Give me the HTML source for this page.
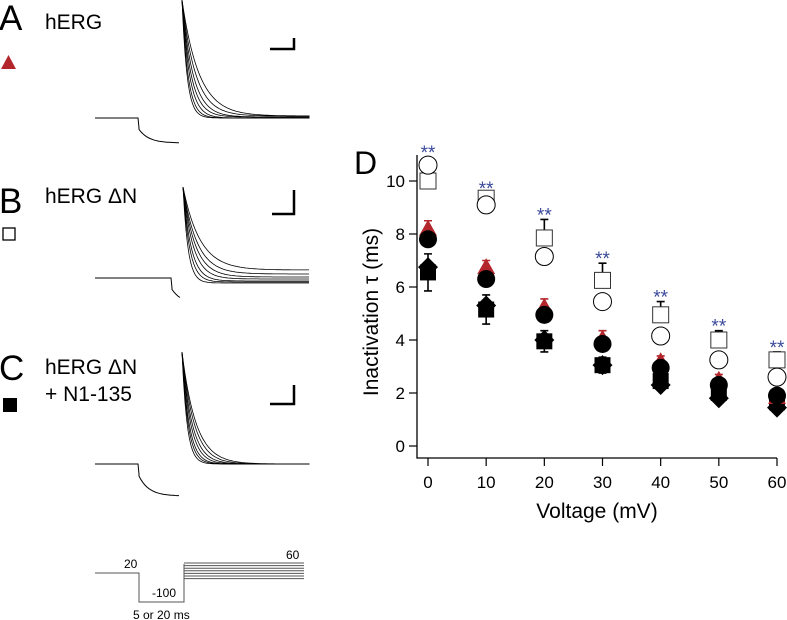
<!DOCTYPE html>
<html><head><meta charset="utf-8"><style>
body{margin:0;background:#fff;width:787px;height:620px;overflow:hidden}
svg{display:block;font-family:"Liberation Sans",Arial,sans-serif}
</style></head><body>
<svg id="fig" width="787" height="620" viewBox="0 0 787 620">
<g fill="#000">
<text x="-1" y="30" font-size="35">A</text>
<text x="45" y="29" font-size="21">hERG</text>
<polygon points="1,69 16,69 8.5,55" fill="#b3262b"/>
<text x="-1" y="213" font-size="35">B</text>
<text x="45" y="203" font-size="21">hERG ΔN</text>
<rect x="3" y="228" width="12" height="12" fill="none" stroke="#000" stroke-width="1.3"/>
<text x="-1" y="380" font-size="35">C</text>
<text x="45" y="374" font-size="21">hERG ΔN</text>
<text x="45" y="401" font-size="21">+ N1-135</text>
<rect x="3" y="398" width="14" height="14" fill="#000"/>
<text x="354" y="174" font-size="32">D</text>
</g>
<g id="traces" fill="none" stroke="#000" stroke-width="1"></g>
<g stroke="#000" stroke-width="2.5" fill="none">
<polyline points="270,49 294,49 294,38"/>
<polyline points="272,214 294,214 294,190"/>
<polyline points="270,404 294,404 294,385"/>
</g>
<g fill="none" stroke="#555" stroke-width="1">
<polyline points="95,573 139,573 139,602 184,602 184,564"/>
<text x="124" y="568" font-size="12" fill="#000" stroke="none">20</text>
<text x="152" y="597" font-size="12" fill="#000" stroke="none">-100</text>
<text x="286" y="559" font-size="12" fill="#000" stroke="none">60</text>
<text x="133" y="619" font-size="12" fill="#000" stroke="none">5 or 20 ms</text>
</g>
<g id="chart"></g>
</svg>
<script>
const volts=[0,10,20,30,40,50,60];
const openCircle=[10.6,9.1,7.15,5.45,4.15,3.25,2.6];
const openSquare=[10.0,9.35,7.85,6.25,4.95,4.0,3.25];
const openSquareErr=[0.1,0.2,0.7,0.65,0.5,0.35,0.3];
const redTriangle=[8.2,6.75,5.25,4.05,3.2,2.5,1.85];
const redTriangleErr=[0.3,0.25,0.3,0.3,0.2,0.2,0.15];
const blackCircle=[7.8,6.3,4.95,3.85,2.95,2.3,1.9];
const blackSquare=[6.55,5.15,3.95,3.05,2.45,2.0,1.65];
const blackSquareErr=[0.7,0.55,0.4,0.3,0.2,0.15,0.1];
const blackDiamond=[6.75,5.3,4.0,3.05,2.3,1.8,1.45];
const yTicks=[0,2,4,6,8,10];
const NS="http://www.w3.org/2000/svg";
const xS=v=>428+v*(777-428)/60;
const yS=v=>446-v*26.5;
function mk(tag,attrs,parent){const e=document.createElementNS(NS,tag);for(const k in attrs)e.setAttribute(k,attrs[k]);parent.appendChild(e);return e;}
const c=document.getElementById('chart');
let ax=mk('path',{d:'M417,155 V458 H777',stroke:'#000','stroke-width':1.3,fill:'none'},c);


yTicks.forEach(t=>{
 let l=mk('line',{x1:409,x2:417,y1:yS(t),y2:yS(t),stroke:'#000','stroke-width':1.2},c);
 
 
 let tx=mk('text',{x:405,y:yS(t)+6,'text-anchor':'end','font-size':17},c);tx.textContent=t;
 
 
});
volts.forEach(v=>{
 let l=mk('line',{x1:xS(v),x2:xS(v),y1:458,y2:466,stroke:'#000','stroke-width':1.2},c);
 
 
 let tx=mk('text',{x:xS(v),y:488,'text-anchor':'middle','font-size':17},c);tx.textContent=v;
 
 
});
let xt=mk('text',{x:597,y:518,'text-anchor':'middle','font-size':21},c);xt.textContent='Voltage (mV)';


let yt=mk('text',{x:0,y:0,'text-anchor':'middle','font-size':21,transform:'translate(378,312) rotate(-90)'},c);yt.textContent='Inactivation τ (ms)';


function err(vals,errs,color,name){
 vals.forEach((v,i)=>{const x=xS(volts[i]),y1=yS(v),y2=yS(v+errs[i]);
  let p=mk('path',{d:`M${x},${y1} V${y2} M${x-4},${y2} H${x+4}`,stroke:color,'stroke-width':1.6,fill:'none'},c);
  
  
 });
}
err(blackSquare,blackSquareErr,'#000','error-bar-dn-n1');
err(blackSquare,blackSquareErr.map(e=>-e),'#000','error-bar-dn-n1');
err(redTriangle,redTriangleErr,'#b3262b','error-bar-herg');
err(openSquare,openSquareErr,'#000','error-bar-dn');
volts.forEach((v,i)=>{const x=xS(v);
 let y=yS(blackDiamond[i]);
 let d=mk('polygon',{points:`${x},${y-10} ${x+10},${y} ${x},${y+10} ${x-10},${y}`,fill:'#000'},c);
 
 
 y=yS(blackSquare[i]);
 let s=mk('rect',{x:x-8,y:y-8,width:16,height:16,fill:'#000'},c);
 
 
 y=yS(redTriangle[i]);
 let t=mk('polygon',{points:`${x-9},${y+7} ${x+9},${y+7} ${x},${y-9}`,fill:'#b3262b'},c);
 
 
 y=yS(blackCircle[i]);
 let ci=mk('circle',{cx:x,cy:y,r:9,fill:'#000'},c);
 
 
 y=yS(openSquare[i]);
 let os=mk('rect',{x:x-8,y:y-8,width:16,height:16,fill:'#fff',stroke:'#333','stroke-width':1},c);
 
 
 y=yS(openCircle[i]);
 let oc=mk('circle',{cx:x,cy:y,r:9,fill:'#fff',stroke:'#000','stroke-width':1},c);
 
 
 const top=Math.max(openCircle[i]+0.3,openSquare[i]+openSquareErr[i]);
 let st=mk('text',{x:x,y:yS(top)+2,'text-anchor':'middle','font-size':19,fill:'#3a4a9a'},c);st.textContent='**';
 
 
});
const tg=document.getElementById('traces');
function panel(base,dropX,dropY,peakX,peakY,ends,taus){
 let d=`M95,${base} H${dropX} L${dropX+1},${base+10} `;
 for(let x=dropX+1;x<=180;x+=2){d+=`L${x},${(base+10+(dropY-base-10)*(1-Math.exp(-(x-dropX)/10))).toFixed(1)} `;}
 mk('path',{d:d},tg);
 ends.forEach((e,k)=>{let s=`M${peakX},${peakY} `;
  for(let x=peakX;x<=310;x+=1.5){s+=`L${x},${(e+(peakY-e)*Math.exp(-(x-peakX)/taus[k])).toFixed(1)} `;}
  mk('path',{d:s,'stroke-width':0.8},tg);});
}
panel(118,138,143,182,0,[118,118,118,117,117,116,116],[5,6,7.5,9,11,13.5,17]);
panel(278,171,304,183,187,[283,282,281,279,277,274,270],[5,6.5,8,10,12,14,17]);
panel(464,138,496,182,352,[464,464,464,464,464,464,464],[5,6,7,8.5,10,12,14]);
for(let k=0;k<7;k++){mk('line',{x1:184,x2:304,y1:563+k*2.6,y2:563+k*2.6,stroke:'#555'},tg);}
</script>
</body></html>
